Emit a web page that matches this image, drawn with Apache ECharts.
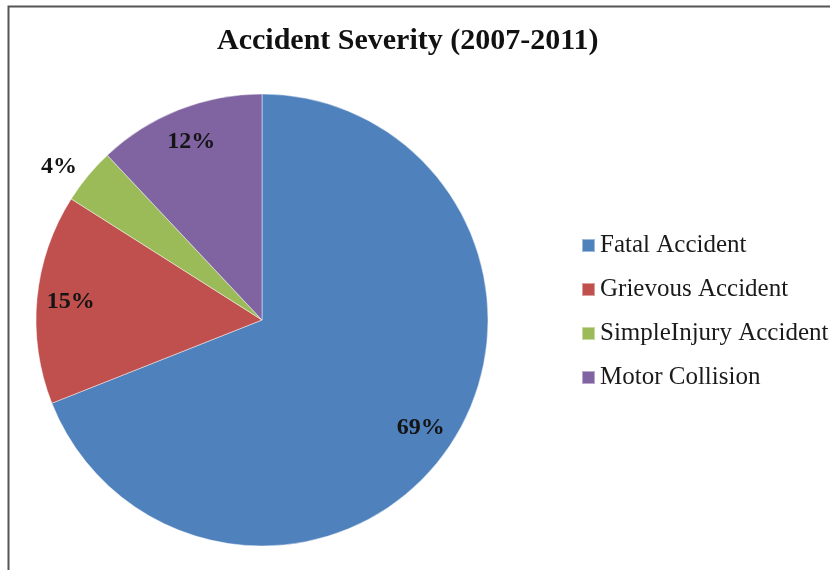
<!DOCTYPE html>
<html>
<head>
<meta charset="utf-8">
<script src="https://cdn.jsdelivr.net/npm/echarts@6/dist/echarts.min.js"></script>
<style>html,body{margin:0;padding:0;background:#fff;}#c{width:830px;height:570px;}</style>
</head>
<body>
<div id="c"></div>
<script>
const titleText = 'Accident Severity (2007-2011)';
const categories = ['Fatal Accident', 'Grievous Accident', 'Simple Injury Accident', 'Motor Collision'];
const legendLabels = ['Fatal Accident', 'Grievous Accident', 'SimpleInjury Accident', 'Motor Collision'];
const values = [69, 15, 4, 12];
const colors = ['#4F81BD', '#C0504D', '#9BBB59', '#8064A2'];

const chart = echarts.init(document.getElementById('c'), null, {renderer: 'canvas'});
const serif = '"Liberation Serif", "DejaVu Serif", serif';

const mainData = categories.map((c, i) => ({
  name: legendLabels[i], value: values[i], itemStyle: {color: colors[i]}
}));
const labelData = categories.map((c, i) => {
  const d = {name: legendLabels[i], value: values[i]};
  if (values[i] < 5) {
    d.label = {position: 'outside', distanceToLabelLine: 0};
    d.labelLine = {show: false, length: 14, length2: 0};
  }
  return d;
});

chart.setOption({
  backgroundColor: '#fff',
  animation: false,
  title: {
    text: titleText,
    left: 212, top: 21,
    textStyle: {fontFamily: serif, fontWeight: 'bold', fontSize: 30, color: '#111'}
  },
  legend: {
    orient: 'vertical',
    left: 576, top: 228,
    itemWidth: 13, itemHeight: 13, itemGap: 19,
    icon: 'rect',
    data: legendLabels.map((n, i) => ({name: n, itemStyle: {color: colors[i]}})),
    textStyle: {fontFamily: serif, fontSize: 25, lineHeight: 25, color: '#1a1a1a'}
  },
  graphic: [{
    type: 'rect', silent: true,
    shape: {x: 8.5, y: 6.5, width: 900, height: 700},
    style: {fill: 'none', stroke: '#555', lineWidth: 2}
  }],
  series: [{
    type: 'pie',
    center: [262, 320],
    radius: [0, 226],
    startAngle: 90,
    clockwise: true,
    avoidLabelOverlap: false,
    silent: true,
    label: {show: false},
    labelLine: {show: false},
    itemStyle: {borderColor: 'rgba(255,255,255,0.45)', borderWidth: 1},
    data: mainData
  }, {
    type: 'pie',
    center: [262, 320],
    radius: [152, 226],
    startAngle: 90,
    clockwise: true,
    avoidLabelOverlap: false,
    silent: true,
    legendHoverLink: false,
    itemStyle: {color: 'rgba(0,0,0,0)', borderWidth: 0},
    label: {
      show: true, position: 'inside',
      formatter: '{c}%',
      fontFamily: serif, fontWeight: 'bold', fontSize: 24, color: '#141414'
    },
    labelLine: {show: false},
    data: labelData
  }]
});
</script>
</body>
</html>
